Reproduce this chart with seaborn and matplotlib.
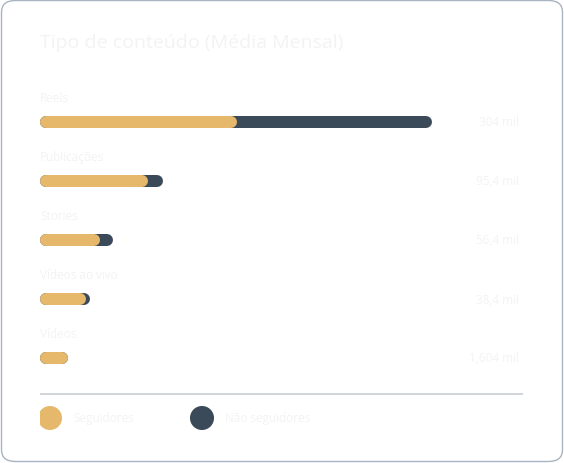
import matplotlib.pyplot as plt
import seaborn as sns
from matplotlib.patches import FancyBboxPatch

# Data
categories = ["Reels", "Publicações", "Stories", "Vídeos ao vivo", "Vídeos"]
totals = [304, 95.4, 56.4, 38.4, 22.0]
followers = [152.7, 83.7, 46.5, 35.7, 22.0]
value_labels = ["304 mil", "95,4 mil", "56,4 mil", "38,4 mil", "1,604 mil"]

sns.set_theme(style="white")
plt.rcParams["font.family"] = ["Open Sans", "DejaVu Sans"]

W, H = 564, 464
fig = plt.figure(figsize=(W / 100, H / 100), dpi=100)
fig.patch.set_facecolor("white")
card = FancyBboxPatch((1.5 / W, 1.5 / H), (W - 3) / W, (H - 3) / H,
                      boxstyle="round,pad=0,rounding_size=0.025",
                      transform=fig.transFigure, facecolor="white",
                      edgecolor="#a9b4c2", linewidth=1, zorder=-5)
fig.patches.append(card)

scale = 1.29  # px per unit
x0, x1 = 40, 523
ax = fig.add_axes([x0 / W, 0, (x1 - x0) / W, 1])
ax.set_zorder(2)
ax.set_xlim(0, (x1 - x0) / scale)
ax.set_ylim(H, 0)
ax.axis("off")

dark = "#3a4a58"
gold = "#e6b86c"
text_c = "#f3f3f3"
cap = 6 / scale
lw = 12 * 0.72

fig.text(40 / W, 1 - 43 / H, "Tipo de conteúdo (Média Mensal)", fontsize=14,
         color=text_c, va="center")

for i, (cat, tot, fol, lab) in enumerate(zip(categories, totals, followers, value_labels)):
    yc = 123 + i * 59
    ax.plot([cap, max(tot - cap, cap)], [yc, yc], color=dark, lw=lw, solid_capstyle="round")
    ax.plot([cap, max(fol - cap, cap)], [yc, yc], color=gold, lw=lw, solid_capstyle="round")
    ax.text(0, yc - 24, cat, fontsize=8.5, color=text_c, va="center", ha="left")
    fig.text(519 / W, 1 - yc / H, lab, fontsize=8.5, color=text_c, va="center", ha="right")

ax.plot([0, (x1 - x0) / scale], [395, 395], color="#c9cdd2", lw=1.2)

# legend
ax.scatter([10 / scale], [419], s=300, color=gold, edgecolor="none")
ax.text(33 / scale, 419, "Seguidores", fontsize=8.5, color=text_c, va="center")
ax.scatter([162 / scale], [419], s=300, color=dark, edgecolor="none")
ax.text(185 / scale, 419, "Não seguidores", fontsize=8.5, color=text_c, va="center")

fig.savefig("out.png", dpi=100)
